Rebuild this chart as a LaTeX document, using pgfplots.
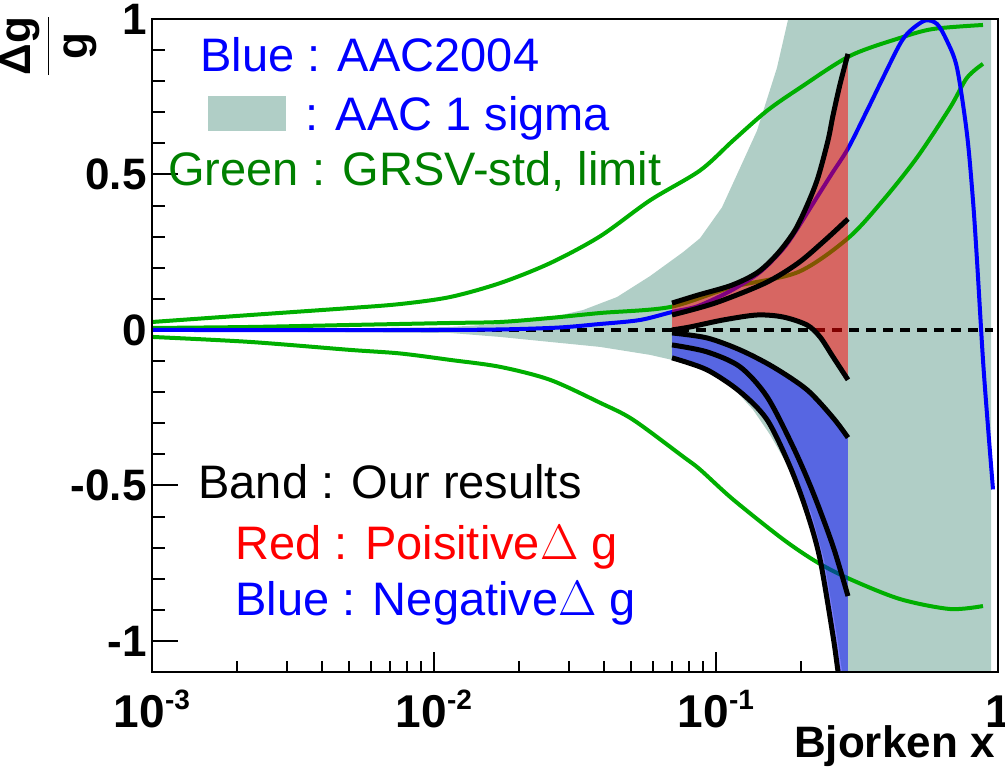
\documentclass[border=0pt]{standalone}
\usepackage{fontspec}
\setmainfont{Liberation Sans}
\usepackage{pgfplots}
\pgfplotsset{compat=1.18}
\definecolor{band}{RGB}{176,206,198}
\definecolor{lgreen}{RGB}{0,175,0}
\definecolor{tgreen}{RGB}{0,128,0}
\begin{document}
\begin{tikzpicture}
\begin{axis}[
  at={(0,0)}, anchor=south west,
  scale only axis, width=423pt, height=326.5pt,
  xmode=log, xmin=0.001, xmax=1, ymin=-1.1, ymax=1,
  axis line style={line width=1pt},
  tick align=inside, tick pos=left,
  xtick={0.001,0.01,0.1,1},
  xticklabels={{10\raisebox{9pt}{\fontsize{14}{14}\selectfont -3}},{10\raisebox{9pt}{\fontsize{14}{14}\selectfont -2}},{10\raisebox{9pt}{\fontsize{14}{14}\selectfont -1}},1},
  ytick={-1,-0.5,0,0.5,1}, yticklabels={-1,-0.5,0,0.5,1},
  minor ytick={-0.9,-0.8,-0.7,-0.6,-0.4,-0.3,-0.2,-0.1,0.1,0.2,0.3,0.4,0.6,0.7,0.8,0.9},
  tick style={line width=1pt, black},
  xtick style={/pgfplots/major tick length=10pt,/pgfplots/minor tick length=5.5pt},
  ytick style={/pgfplots/major tick length=13pt,/pgfplots/minor tick length=6.5pt},
  xticklabel style={font=\fontsize{23}{23}\selectfont\bfseries, anchor=base, inner sep=0pt, yshift=-27.5pt},
  yticklabel style={font=\fontsize{22}{22}\selectfont\bfseries, anchor=east, inner sep=0pt, xshift=-2.5pt},
  clip mode=individual,
]
% AAC 1 sigma band
\addplot[fill=band, draw=none] coordinates {
(0.001,0.0032) (0.003348,0.0032) (0.011392,0.0096) (0.01714,0.0192) (0.02376,0.032) (0.03377,0.0641) (0.04456,0.1058) (0.05834,0.1731) (0.07638,0.25) (0.08777,0.2949) (0.1050,0.3942) (0.1237,0.5353) (0.1398,0.641) (0.1645,0.8429) (0.1800,0.9968) (0.1860,1.0577)
(0.945,1.0577) (0.945,-1.2)
(0.2891,-1.2) (0.2797,-1.0962) (0.2685,-0.984) (0.2415,-0.7372) (0.2173,-0.5865) (0.1830,-0.4487) (0.1554,-0.3365) (0.1353,-0.2564) (0.1149,-0.1859) (0.09292,-0.1218) (0.06984,-0.0962) (0.05834,-0.0801) (0.03879,-0.0545) (0.02578,-0.0385) (0.01714,-0.0224) (0.011392,-0.0096) (0.003348,-0.0064) (0.001,-0.0032)
} --cycle;
% GRSV limit (upper)
\addplot[lgreen, line width=2pt, smooth] coordinates {
(0.001,0.0256) (0.002226,0.048) (0.005037,0.0705) (0.007574,0.0833) (0.011392,0.1058) (0.01714,0.1506) (0.02578,0.2147) (0.03879,0.301) (0.05834,0.4167) (0.08777,0.5128) (0.1149,0.609) (0.1517,0.705) (0.1986,0.7788) (0.2987,0.8814) (0.4493,0.9391) (0.5883,0.9679) (0.8847,0.9808)
};
% GRSV std
\addplot[lgreen, line width=2pt, smooth] coordinates {
(0.001,0.0064) (0.002226,0.0096) (0.005037,0.016) (0.011392,0.0224) (0.01714,0.0256) (0.02578,0.0385) (0.03879,0.0545) (0.06871,0.0737) (0.1140,0.1378) (0.1953,0.1859) (0.2938,0.2949) (0.3911,0.4167) (0.5162,0.5545) (0.6758,0.7147) (0.7762,0.8109) (0.8847,0.8558)
};
% GRSV limit (lower)
\addplot[lgreen, line width=2pt, smooth] coordinates {
(0.001,-0.0224) (0.002226,-0.0385) (0.005037,-0.0641) (0.007574,-0.0755) (0.011392,-0.0962) (0.01714,-0.1186) (0.02578,-0.1603) (0.03879,-0.234) (0.05077,-0.2885) (0.07638,-0.407) (0.08777,-0.4487) (0.1149,-0.5449) (0.1729,-0.6731) (0.2282,-0.7468) (0.2987,-0.8013) (0.4493,-0.8654) (0.6758,-0.8974) (0.8847,-0.8878)
};
% zero line
\addplot[black, line width=2pt, dash pattern=on 5pt off 3.5pt] coordinates {(0.001,0) (0.96,0)};
% AAC2004
\addplot[blue, line width=2pt, smooth] coordinates {
(0.001,0) (0.011392,0) (0.02578,0.0064) (0.03879,0.0192) (0.05375,0.032) (0.06984,0.0577) (0.08635,0.0769) (0.1140,0.1282) (0.1432,0.1859) (0.1714,0.2564) (0.1906,0.3141) (0.2245,0.4167) (0.2578,0.5032) (0.2938,0.5833) (0.3431,0.7051) (0.3911,0.8109) (0.4493,0.9199) (0.4874,0.9615) (0.5510,0.995) (0.6079,0.984) (0.6594,0.9295) (0.7156,0.8429) (0.7762,0.6314) (0.8153,0.4167) (0.8424,0.2244) (0.8847,-0.0962) (0.9215,-0.3109) (0.9601,-0.5128)
};
% positive band fill
\addplot[fill=red, fill opacity=0.5, draw=none] coordinates {
(0.06984,0.0865) (0.08635,0.1122) (0.1140,0.1442) (0.1409,0.1859) (0.1659,0.2468) (0.1906,0.3205) (0.2119,0.4071) (0.2300,0.4904) (0.2495,0.609) (0.2600,0.69) (0.2753,0.79) (0.2938,0.8878)
(0.2938,-0.1603) (0.26,-0.0865) (0.2338,-0.0224) (0.2102,0.016) (0.1729,0.0417) (0.1398,0.0481) (0.1059,0.032) (0.0809,0.0096) (0.06984,0.0)
} --cycle;
% negative band fill
\addplot[fill=blue, fill opacity=0.5, draw=none] coordinates {
(0.06984,-0.0096) (0.09292,-0.0256) (0.1217,-0.0641) (0.1593,-0.1186) (0.2102,-0.1923) (0.26,-0.2821) (0.2938,-0.3462)
(0.2938,-1.2) (0.2821,-1.2) (0.2707,-1.0962) (0.26,-0.984) (0.2338,-0.7372) (0.2102,-0.5865) (0.1830,-0.4391) (0.1517,-0.2885) (0.1217,-0.1987) (0.09292,-0.1282) (0.06984,-0.0897)
} --cycle;
% black result curves
\addplot[black, line width=2.5pt, smooth] coordinates {
(0.06984,0.0865) (0.08635,0.1122) (0.1140,0.1442) (0.1409,0.1859) (0.1659,0.2468) (0.1906,0.3205) (0.2119,0.4071) (0.2300,0.4904) (0.2495,0.609) (0.2600,0.69) (0.2753,0.79) (0.2938,0.8878)};
\addplot[black, line width=2.5pt, smooth] coordinates {
(0.06984,0.0481) (0.0992,0.0865) (0.1492,0.1506) (0.1953,0.2147) (0.2435,0.2885) (0.2938,0.357)};
\addplot[black, line width=2.5pt, smooth] coordinates {
(0.06984,0.0) (0.0809,0.0096) (0.1059,0.032) (0.1398,0.0481) (0.1729,0.0417) (0.2102,0.016) (0.2338,-0.0224) (0.26,-0.0865) (0.2938,-0.1603)};
\addplot[black, line width=2.5pt, smooth] coordinates {
(0.06984,-0.0096) (0.09292,-0.0256) (0.1217,-0.0641) (0.1593,-0.1186) (0.2102,-0.1923) (0.26,-0.2821) (0.2938,-0.3462)};
\addplot[black, line width=2.5pt, smooth] coordinates {
(0.06984,-0.0481) (0.09292,-0.0705) (0.1217,-0.1186) (0.1517,-0.2147) (0.1875,-0.375) (0.2208,-0.5224) (0.26,-0.6955) (0.2938,-0.8558)};
\addplot[black, line width=2.5pt, smooth] coordinates {
(0.06984,-0.0897) (0.09292,-0.1282) (0.1217,-0.1987) (0.1517,-0.2885) (0.1830,-0.4391) (0.2102,-0.5865) (0.2338,-0.7372) (0.26,-0.984) (0.2707,-1.0962) (0.2821,-1.2)};
\end{axis}
\begin{scope}[x=0.5pt,y=-0.5pt,shift={(-76pt,336pt)}]
\draw[line width=1pt] (152,672) rectangle (998,19);
\tikzset{lg/.style={anchor=base west, inner sep=0pt, font=\fontsize{23.5}{28}\selectfont}}
\node[lg, text=blue] at (200,72) {Blue : AAC2004};
\fill[band] (208,96) rectangle (286,131);
\node[lg, text=blue] at (305,130) {: AAC 1 sigma};
\node[lg, text=tgreen] at (168,185) {Green : GRSV-std, limit};
\node[lg, text=black] at (198,498) {Band : Our results};
\node[lg, text=red] at (235,559) {Red : Poisitive$\Delta$ g};
\node[lg, text=blue] at (235,615) {Blue : Negative$\Delta$ g};
\node[anchor=base east, inner sep=0pt, font=\fontsize{22}{26}\selectfont\bfseries] at (995,757) {Bjorken x};
\node[rotate=90, anchor=base, inner sep=0pt, font=\fontsize{22}{26}\selectfont\bfseries] at (59,46) {$\displaystyle\frac{\mbox{Δg}}{\mbox{g}}$};
\pgfresetboundingbox
\path[use as bounding box] (0,0) rectangle (1005,767);
\end{scope}
\end{tikzpicture}
\end{document}
